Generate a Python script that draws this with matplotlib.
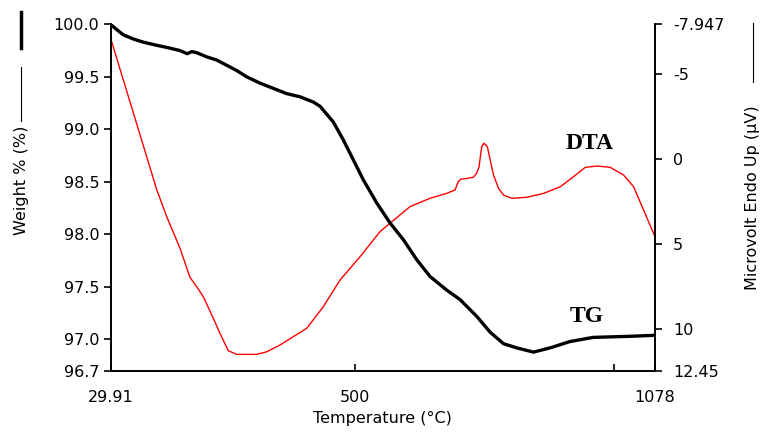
import matplotlib
matplotlib.use("Agg")
from matplotlib import pyplot as plt
from matplotlib.lines import Line2D

# TG curve: temperature (°C) vs weight (%)
tg_temp = [29.91, 32.2, 41.8, 54.6, 73.8, 93.1, 118.8, 138.1, 163.7, 177.7, 186.2,
           195.8, 215.1, 234.3, 253.6, 272.8, 292.1, 317.7, 343.3, 369.1, 394.7,
           420.3, 433.2, 458.8, 478, 497.3, 516.5, 542.3, 567.9, 593.6, 619.3, 644.9,
           677, 702.7, 734.9, 760.5, 786.4, 811.9, 844, 876, 914, 959, 1029, 1078]
tg_weight = [100.0, 99.99, 99.95, 99.90, 99.86, 99.83, 99.80, 99.78, 99.75, 99.72,
             99.74, 99.73, 99.69, 99.66, 99.61, 99.56, 99.50, 99.44, 99.39, 99.34,
             99.31, 99.26, 99.22, 99.07, 98.90, 98.71, 98.52, 98.30, 98.11, 97.95,
             97.76, 97.60, 97.47, 97.38, 97.22, 97.07, 96.96, 96.92, 96.88, 96.92,
             96.98, 97.02, 97.03, 97.04]

# DTA curve: temperature (°C) vs microvolt
dta_temp = [32.2, 119.1, 138.1, 163.7, 182.9, 195.8, 208.6, 227.8, 240.7, 256.7,
            272.8, 311.3, 330.6, 356.2, 381.8, 407.6, 439.5, 471.7, 510.2, 548.7,
            567.9, 606.4, 644.9, 677, 693, 699.4, 704, 728, 734.8, 739.3, 744.4,
            748.9, 755.3, 760.8, 767.2, 776.8, 786.4, 802.6, 831.4, 863.5, 895.6,
            921.2, 943.7, 966.3, 991.9, 1017.5, 1036.8, 1056, 1078]
dta_uv = [-6.92, 1.80, 3.37, 5.23, 6.94, 7.49, 8.08, 9.35, 10.24, 11.26, 11.47,
          11.47, 11.32, 10.92, 10.43, 9.94, 8.67, 7.10, 5.73, 4.25, 3.76, 2.78, 2.29,
          2.0, 1.80, 1.31, 1.17, 1.06, 0.82, 0.43, -0.75, -0.95, -0.75, 0.04, 0.92,
          1.70, 2.10, 2.29, 2.23, 2.0, 1.61, 1.02, 0.47, 0.39, 0.47, 0.92, 1.61,
          2.98, 4.55]

x_ticks = [29.91, 500, 1000, 1078]
x_labels = ["29.91", "500", "", "1078"]
w_ticks = [96.7, 97.0, 97.5, 98.0, 98.5, 99.0, 99.5, 100.0]
uv_ticks = [-7.947, -5, 0, 5, 10, 12.45]
uv_labels = ["-7.947", "-5", "0", "5", "10", "12.45"]

plt.rcParams["font.family"] = ["DejaVu Sans"]
FS = 11.5

W, H = 764, 433
fig = plt.figure(figsize=(W / 100, H / 100), dpi=100)
ax = fig.add_axes([110.5 / W, 1 - 371 / H, (655 - 110.5) / W, (371 - 24.3) / H])
ax2 = ax.twinx()

ax.plot(tg_temp, tg_weight, color="black", lw=2.4, zorder=3)
ax2.plot(dta_temp, dta_uv, color="red", lw=1.0)
ax.set_zorder(ax2.get_zorder() + 1)
ax.patch.set_visible(False)

ax.set_xlim(29.91, 1078)
ax.set_ylim(96.7, 100.0)
ax2.set_ylim(12.45, -7.947)

ax.set_xticks(x_ticks)
ax.set_xticklabels(x_labels)
ax.set_yticks(w_ticks)
ax.set_yticklabels([f"{v:.1f}" for v in w_ticks])
ax2.set_yticks(uv_ticks)
ax2.set_yticklabels(uv_labels)

for a in (ax, ax2):
    a.spines["top"].set_visible(False)
    for s in a.spines.values():
        s.set_linewidth(1.2)
ax.tick_params(axis="x", direction="in", length=5, width=1.2, pad=14, labelsize=FS)
ax.tick_params(axis="y", direction="out", length=5, width=1.2, pad=3, labelsize=FS)
ax2.tick_params(axis="y", direction="out", length=5, width=1.2, pad=8, labelsize=FS)

ax.set_xlabel("Temperature (°C)", fontsize=FS, labelpad=4)

# axis titles with their legend marks
fig.text(22 / W, 1 - 180 / H, "Weight % (%)", rotation=90, ha="center", va="center", fontsize=FS)
fig.add_artist(Line2D([20.7 / W, 20.7 / W], [1 - 67 / H, 1 - 121 / H], color="black", lw=0.8))
fig.add_artist(Line2D([20.7 / W, 20.7 / W], [1 - 11.7 / H, 1 - 48.3 / H], color="black", lw=2.5))
fig.text(753 / W, 1 - 198 / H, "Microvolt Endo Up (µV)", rotation=90, ha="center", va="center", fontsize=FS)
fig.add_artist(Line2D([753.3 / W, 753.3 / W], [1 - 23 / H, 1 - 82 / H], color="black", lw=0.8))

ax.text(953, 98.87, "DTA", family=["Liberation Serif"], weight="bold", fontsize=17,
        ha="center", va="center")
ax.text(946, 97.22, "TG", family=["Liberation Serif"], weight="bold", fontsize=17,
        ha="center", va="center")

fig.savefig("out.png", dpi=100)
